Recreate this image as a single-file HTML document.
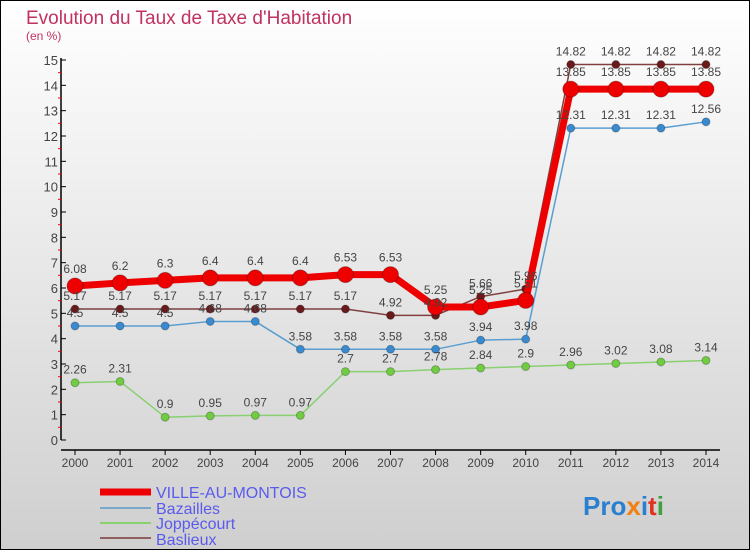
<!DOCTYPE html>
<html><head><meta charset="utf-8"><style>
body{margin:0}
svg{display:block;font-family:"Liberation Sans",sans-serif}
</style></head><body>
<svg id="c" width="750" height="550" viewBox="0 0 750 550">
<defs><linearGradient id="bg" x1="0" y1="0" x2="0" y2="1"><stop offset="0" stop-color="#ffffff"/><stop offset="1" stop-color="#cfcfcf"/></linearGradient></defs>
<rect x="0.5" y="0.5" width="749" height="549" fill="url(#bg)" stroke="#000"/>
<text x="26" y="24" font-size="19" fill="#c0325f">Evolution du Taux de Taxe d'Habitation</text>
<text x="26" y="40" font-size="12" fill="#c0325f">(en %)</text>
<g id="axes"></g><g id="series"></g><g id="labels"></g>
<g>
<line x1="100" y1="492" x2="151" y2="492" stroke="#ee0000" stroke-width="7"/>
<text x="156" y="498" font-size="16" fill="#5a5aee">VILLE-AU-MONTOIS</text>
<line x1="100" y1="508" x2="151" y2="508" stroke="#7aa8c8" stroke-width="2"/>
<text x="156" y="514" font-size="16" fill="#5a5aee">Bazailles</text>
<line x1="100" y1="523" x2="151" y2="523" stroke="#88d070" stroke-width="2"/>
<text x="156" y="529" font-size="16" fill="#5a5aee">Joppécourt</text>
<line x1="100" y1="538" x2="151" y2="538" stroke="#906060" stroke-width="2"/>
<text x="156" y="545" font-size="16" fill="#5a5aee">Baslieux</text>
</g>
<text x="583" y="515" font-size="26" font-weight="bold"><tspan fill="#2a7fd0">Pro</tspan><tspan fill="#f08010">x</tspan><tspan fill="#2a7fd0">i</tspan><tspan fill="#e03020">t</tspan><tspan fill="#40a040">i</tspan></text>
</svg>
<script>
const years=["2000","2001","2002","2003","2004","2005","2006","2007","2008","2009","2010","2011","2012","2013","2014"];
const yTicks=[0,1,2,3,4,5,6,7,8,9,10,11,12,13,14,15];
const ville=[6.08,6.2,6.3,6.4,6.4,6.4,6.53,6.53,5.25,5.25,5.51,13.85,13.85,13.85,13.85];
const bazailles=[4.5,4.5,4.5,4.68,4.68,3.58,3.58,3.58,3.58,3.94,3.98,12.31,12.31,12.31,12.56];
const joppecourt=[2.26,2.31,0.9,0.95,0.97,0.97,2.7,2.7,2.78,2.84,2.9,2.96,3.02,3.08,3.14];
const baslieux=[5.17,5.17,5.17,5.17,5.17,5.17,5.17,4.92,4.92,5.66,5.96,14.82,14.82,14.82,14.82];
const NS="http://www.w3.org/2000/svg";
const X=i=>75+i*(706-75)/(years.length-1);
const Y=v=>440-v*(440-60)/15;
function mk(t,a,p){const e=document.createElementNS(NS,t);for(const k in a)e.setAttribute(k,a[k]);p.appendChild(e);return e;}
const ax=document.getElementById('axes');
const yaxis=mk('line',{x1:61,y1:58,x2:61,y2:440,stroke:'#000','stroke-width':1.5},ax);


const xaxis=mk('line',{x1:61,y1:450,x2:720,y2:450,stroke:'#000','stroke-width':1.5},ax);


yTicks.forEach(v=>{
  mk('line',{x1:61,y1:Y(v),x2:66,y2:Y(v),stroke:'#000'},ax);
  if(v<15)mk('line',{x1:58,y1:Y(v+0.5),x2:61,y2:Y(v+0.5),stroke:'#f00'},ax);
  const t=mk('text',{x:58,y:Y(v)+5,'text-anchor':'end','font-size':13,fill:'#444'},ax);t.textContent=v;
  
  
});
years.forEach((y,i)=>{
  mk('line',{x1:X(i),y1:450,x2:X(i),y2:455,stroke:'#000'},ax);
  const t=mk('text',{x:X(i),y:467,'text-anchor':'middle','font-size':12,fill:'#444'},ax);t.textContent=y;
  
  
});
const sg=document.getElementById('series'),lg=document.getElementById('labels');
function series(name,data,color,dot,w,r){
  const g=mk('g',{},sg);
  
  
  mk('polyline',{points:data.map((v,i)=>X(i)+','+Y(v)).join(' '),fill:'none',stroke:color,'stroke-width':w,'stroke-linejoin':'round'},g);
  data.forEach((v,i)=>{
    const c=mk('circle',{cx:X(i),cy:Y(v),r:r,fill:dot,stroke:'rgba(0,0,0,0.25)'},g);
    
    
    const t=mk('text',{x:X(i),y:Y(v)-r-5,'text-anchor':'middle','font-size':12,fill:'#444'},lg);t.textContent=v;
    
    
  });
}
series('joppecourt',joppecourt,'#88d070','#70cc40',1.5,4);
series('bazailles',bazailles,'#5a9ed0','#3a8ad0',1.5,4);
series('baslieux',baslieux,'#804040','#6a1a1a',1.5,4);
series('ville',ville,'#ee0000','#ee0000',7,8);
</script>
</body></html>
